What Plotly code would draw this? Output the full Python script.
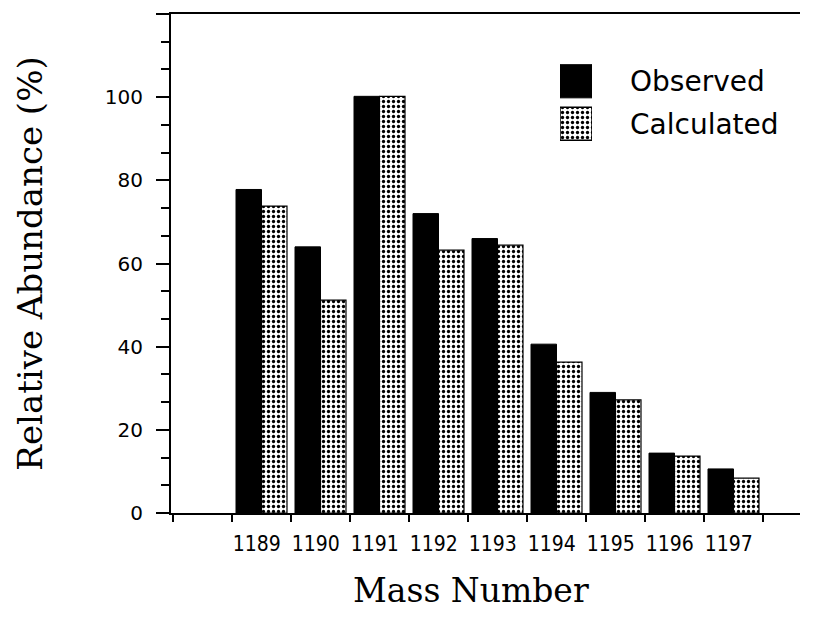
import plotly.graph_objects as go

mass_numbers = ["1189", "1190", "1191", "1192", "1193", "1194", "1195", "1196", "1197"]
observed = [77.8, 64.0, 100.2, 72.0, 66.0, 40.6, 29.0, 14.4, 10.6]
calculated = [73.8, 51.2, 100.2, 63.2, 64.4, 36.3, 27.2, 13.7, 8.4]
y_tick_vals = [0, 20, 40, 60, 80, 100, 120]
y_tick_text = ["0", "20", "40", "60", "80", "100", ""]
legend_names = ["Observed", "Calculated"]

xpos = list(range(len(mass_numbers)))
label_pos = [p - 0.08 for p in xpos]

W, H = 816, 625
L, R, T, B = 171, 16, 14, 112
pw, ph = W - L - R, H - T - B

def px_x(px):
    return (px - L) / pw

def px_y(py):
    return (H - B - py) / ph

dot_pattern = dict(shape=".", fgcolor="black", bgcolor="white", size=5, solidity=0.35, fillmode="replace")

fig = go.Figure()
fig.add_trace(go.Bar(x=xpos, y=observed, name=legend_names[0], marker=dict(color="black", line=dict(color="black", width=1)), showlegend=False))
fig.add_trace(go.Bar(x=xpos, y=calculated, name=legend_names[1], marker=dict(color="white", pattern=dot_pattern, line=dict(color="black", width=1.2)), showlegend=False))

# legend swatches drawn as bars on a small overlay axis
fig.add_trace(go.Bar(y=[0], x=[1], orientation="h", width=0.78, xaxis="x2", yaxis="y2",
                     marker=dict(color="black", line=dict(color="black", width=1)), showlegend=False))
fig.add_trace(go.Bar(y=[1], x=[1], orientation="h", width=0.78, xaxis="x2", yaxis="y2",
                     marker=dict(color="white", pattern=dot_pattern, line=dict(color="black", width=1.5)), showlegend=False))

fig.add_annotation(x=px_x(628), y=px_y(81), xref="paper", yref="paper", text=legend_names[0], showarrow=False,
                   xanchor="left", yanchor="middle", font=dict(family="DejaVu Sans", size=28, color="black"))
fig.add_annotation(x=px_x(628), y=px_y(124), xref="paper", yref="paper", text=legend_names[1], showarrow=False,
                   xanchor="left", yanchor="middle", font=dict(family="DejaVu Sans", size=28, color="black"))

# x-axis title (placed slightly left of plot centre, as in the reference)
fig.add_annotation(x=px_x(471), y=px_y(590), xref="paper", yref="paper", text="Mass Number", showarrow=False,
                   xanchor="center", yanchor="middle", font=dict(family="DejaVu Serif", size=33, color="black"))

fig.update_layout(
    width=W, height=H,
    margin=dict(l=L, r=R, t=T, b=B, pad=0),
    paper_bgcolor="white", plot_bgcolor="white",
    barmode="group", bargap=0.136, bargroupgap=0,
    xaxis=dict(
        range=[(171 - 261.5) / 59, (800 - 261.5) / 59],
        tickvals=label_pos, ticktext=mass_numbers,
        ticks="", ticklabelstandoff=11,
        tickfont=dict(family="Liberation Sans Narrow, DejaVu Sans Condensed, sans-serif", size=21, color="black"),
        showline=True, linecolor="black", linewidth=2, mirror=True,
        showgrid=False, zeroline=False,
        minor=dict(tick0=-0.5, dtick=1, ticks="outside", ticklen=7, tickwidth=2, tickcolor="black", showgrid=False),
    ),
    yaxis=dict(
        range=[0, 120],
        tickvals=y_tick_vals, ticktext=y_tick_text,
        ticks="outside", ticklen=13, tickwidth=2, tickcolor="black",
        ticklabelstandoff=9,
        tickfont=dict(family="DejaVu Sans", size=20, color="black"),
        showline=True, linecolor="black", linewidth=2,
        showgrid=False, zeroline=False,
        minor=dict(tick0=0, dtick=20 / 3, ticks="outside", ticklen=8, tickwidth=2, tickcolor="black", showgrid=False),
        title=dict(text="Relative Abundance (%)", font=dict(family="DejaVu Serif", size=34, color="black"), standoff=52),
    ),
    xaxis2=dict(domain=[px_x(560), px_x(592)], range=[0, 1], anchor="y2", visible=False, fixedrange=True),
    yaxis2=dict(domain=[px_y(145), px_y(60)], range=[1.5, -0.5], anchor="x2", visible=False, fixedrange=True),
)

fig.write_html("out.html")
